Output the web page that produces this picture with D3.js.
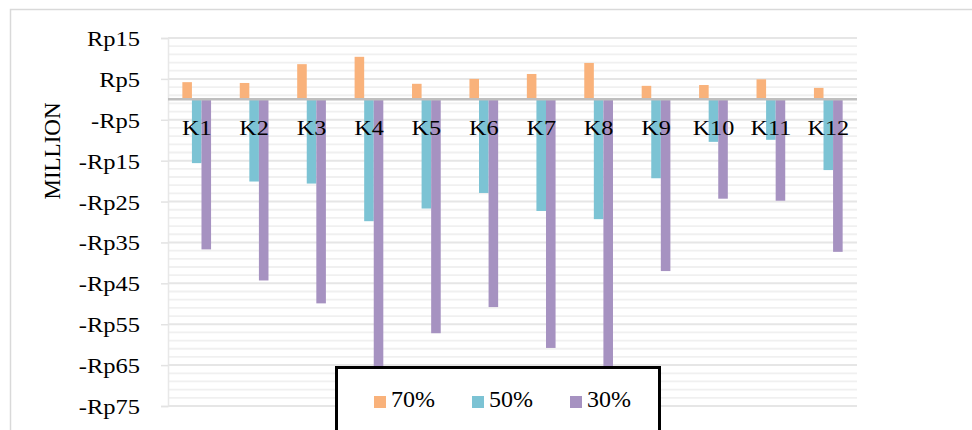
<!DOCTYPE html>
<html>
<head>
<meta charset="utf-8">
<script src="https://cdn.jsdelivr.net/npm/d3@7"></script>
<style>
html,body{margin:0;padding:0;background:#fff;}
svg{display:block;}
text{font-family:"Liberation Serif","Times New Roman",serif;fill:#000;}
</style>
</head>
<body>
<svg id="chart" width="972" height="430"></svg>
<script>
// ---- data ----
const categories = ["K1","K2","K3","K4","K5","K6","K7","K8","K9","K10","K11","K12"];
const seriesNames = ["70%","50%","30%"];
const values70 = [4.2, 4.0, 8.6, 10.4, 3.8, 5.0, 6.2, 8.9, 3.3, 3.5, 4.9, 2.8];
const values50 = [-15.6, -20.1, -20.6, -29.8, -26.7, -22.9, -27.3, -29.3, -19.3, -10.4, -9.9, -17.3];
const values30 = [-36.7, -44.3, -49.9, -70.0, -57.2, -50.8, -60.8, -70.0, -42.0, -24.3, -24.8, -37.3];
const tickValues = [15, 5, -5, -15, -25, -35, -45, -55, -65, -75];
const yTitle = "MILLION";

// ---- styles ----
const colors = ["#F9B27B", "#7CC3D4", "#A692C1"];
const seriesValues = [values70, values50, values30];

const svg = d3.select("#chart");
const plot = {left: 168, right: 857, top: 38, bottom: 406};

// outer chart border
svg.append("rect").attr("x", 10.5).attr("y", 9.5).attr("width", 1000).attr("height", 1000)
  .attr("fill", "none").attr("stroke", "#d9d9d9").attr("stroke-width", 1.5);

const x = d3.scaleBand().domain(categories).range([plot.left, plot.right]).paddingInner(0).paddingOuter(0);
const y = d3.scaleLinear().domain([-75, 15]).range([plot.bottom, plot.top]);
const xs = d3.scaleBand().domain(seriesNames).range([0, x.bandwidth() / 2]);

// minor gridlines every 2 units
const minor = d3.range(-75, 15.01, 2).filter(v => !tickValues.includes(v));
svg.append("g").selectAll("line").data(minor).join("line")
  .attr("x1", plot.left).attr("x2", plot.right)
  .attr("y1", d => y(d)).attr("y2", d => y(d))
  .attr("stroke", "#f0f0f0").attr("stroke-width", 1.8);

// major gridlines + ticks
const yAxis = d3.axisLeft(y).tickValues(tickValues).tickSize(7)
  .tickFormat(d => d < 0 ? "-Rp" + Math.abs(d) : "Rp" + d);
const gy = svg.append("g").attr("transform", `translate(${plot.left},0)`).call(yAxis);
gy.select(".domain").attr("stroke", "#e8e8e8").attr("stroke-width", 1.5);
gy.selectAll(".tick line").attr("stroke", "#e3e3e3").attr("stroke-width", 1.5);
gy.selectAll(".tick text")
  .attr("x", 0).attr("dy", "0.35em")
  .attr("transform", "translate(-28,0) scale(1.14,1)")
  .style("font-family", '"Liberation Serif","Times New Roman",serif')
  .style("font-size", "21.5px").attr("fill", "#000")
  .attr("text-anchor", "end");

svg.append("g").selectAll("line").data(tickValues).join("line")
  .attr("x1", plot.left).attr("x2", plot.right)
  .attr("y1", d => y(d)).attr("y2", d => y(d))
  .attr("stroke", "#e6e6e6").attr("stroke-width", 2);

// bars
seriesNames.forEach((s, si) => {
  svg.append("g").selectAll("rect").data(categories).join("rect")
    .attr("x", c => x(c) + x.bandwidth() / 4 + xs(s))
    .attr("width", xs.bandwidth())
    .attr("y", (c, i) => y(Math.max(0, seriesValues[si][i])))
    .attr("height", (c, i) => Math.abs(y(seriesValues[si][i]) - y(0)))
    .attr("fill", colors[si]);
});

// zero line
svg.append("line").attr("x1", plot.left).attr("x2", plot.right)
  .attr("y1", y(0)).attr("y2", y(0)).attr("stroke", "#bfbfbf").attr("stroke-width", 2.5);

// category labels
svg.append("g").selectAll("text").data(categories).join("text")
  .attr("transform", c => `translate(${x(c) + x.bandwidth() / 2},134.5) scale(1.1,1)`)
  .attr("text-anchor", "middle")
  .style("font-size", "22px")
  .text(c => c);

// y title
svg.append("text")
  .attr("transform", `translate(60,151) rotate(-90)`)
  .attr("text-anchor", "middle")
  .style("font-size", "23px")
  .text(yTitle);

// legend
const lg = svg.append("g");
lg.append("rect").attr("x", 336.5).attr("y", 367.5).attr("width", 323).attr("height", 100)
  .attr("fill", "#fff").attr("stroke", "#000").attr("stroke-width", 3);
const legendX = [374, 472, 570];
seriesNames.forEach((s, si) => {
  lg.append("rect").attr("x", legendX[si]).attr("y", 396).attr("width", 12).attr("height", 12)
    .attr("fill", colors[si]);
  lg.append("text").attr("x", legendX[si] + 17).attr("y", 407)
    .style("font-size", "24px").text(s);
});
</script>
</body>
</html>
